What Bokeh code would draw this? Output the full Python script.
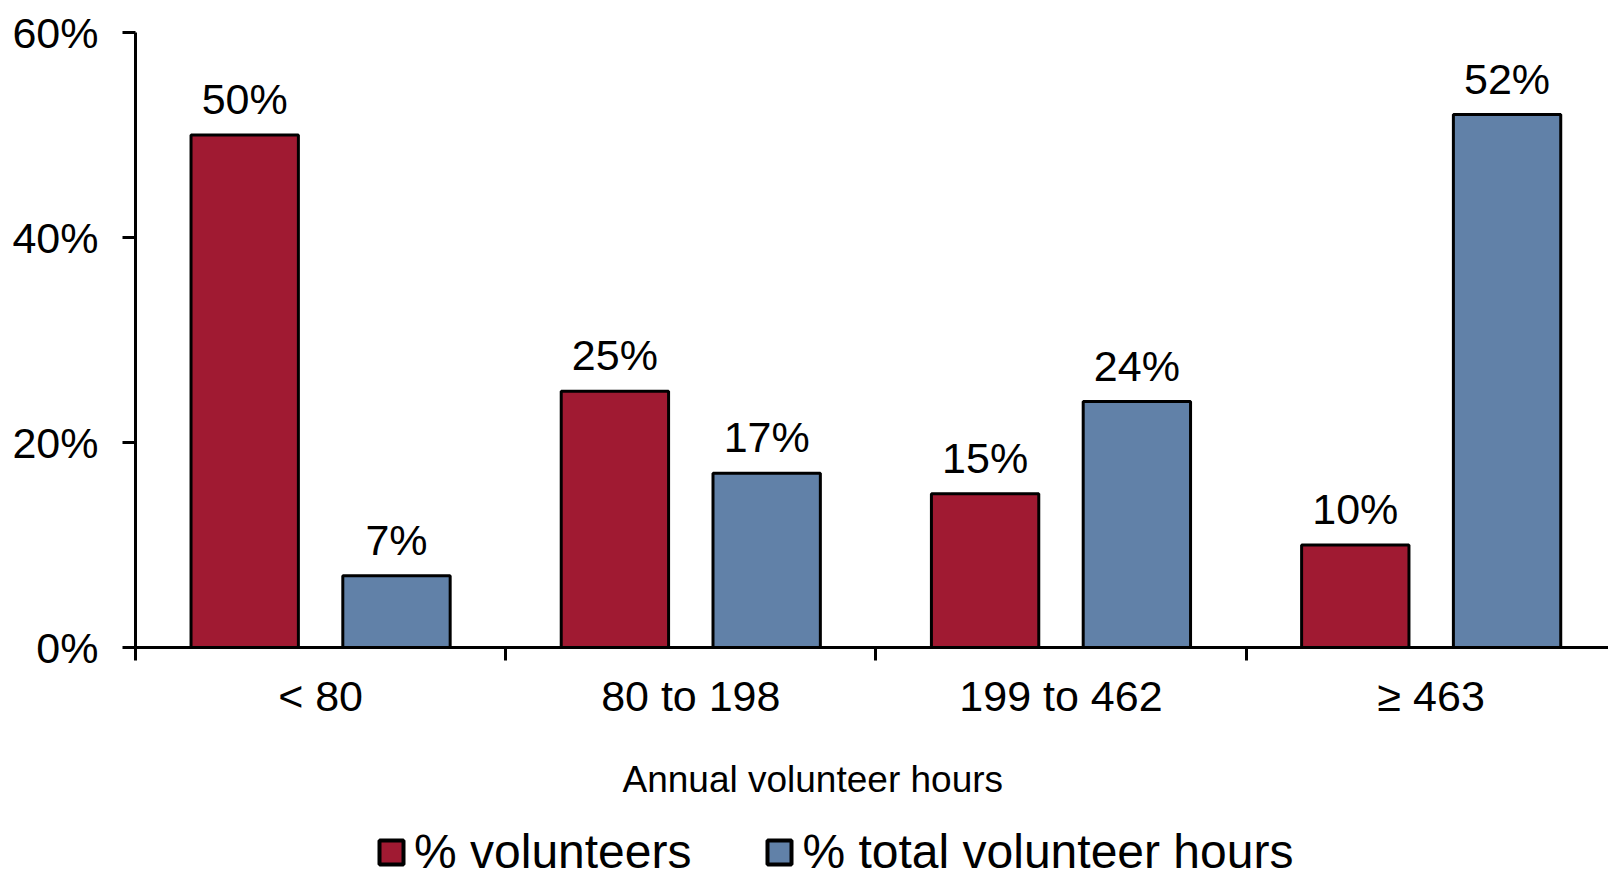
from bokeh.plotting import figure
from bokeh.layouts import column
from bokeh.models import (ColumnDataSource, FixedTicker, PrintfTickFormatter, Legend, LegendItem,
                          LabelSet, Range1d, LinearAxis, CustomJSTickFormatter, Title)
from bokeh.core.properties import value
from bokeh.embed import file_html
from bokeh.resources import INLINE

# ---- data ----
categories = ["< 80", "80 to 198", "199 to 462", "≥ 463"]
pct_volunteers = [50, 25, 15, 10]
pct_hours = [7, 17, 24, 52]
series_names = ["% volunteers", "% total volunteer hours"]
y_ticks = [0, 20, 40, 60]
x_title = "Annual volunteer hours"

RED = "#A01A32"
BLUE = "#6181A8"
FONT = "Liberation Sans"

W, H_MAIN, H_LEG = 1608, 833, 39
X_END = 3.979
p = figure(width=W, height=H_MAIN, output_backend="svg", toolbar_location=None,
           x_range=Range1d(0, X_END), y_range=Range1d(0, 60),
           x_axis_location=None, y_axis_location=None)
p.min_border_left = 135
p.min_border_top = 32
p.min_border_right = 0
p.min_border_bottom = H_MAIN - 647
p.outline_line_color = None
p.grid.visible = False

idx = list(range(len(categories)))
src_v = ColumnDataSource(dict(x=[i + 0.5 - 0.205 for i in idx], top=pct_volunteers,
                              label=[f"{v}%" for v in pct_volunteers]))
src_h = ColumnDataSource(dict(x=[i + 0.5 + 0.205 for i in idx], top=pct_hours,
                              label=[f"{v}%" for v in pct_hours]))

bar_style = dict(width=0.29, line_color="black", line_width=3)
p.vbar(x="x", top="top", source=src_v, fill_color=RED, **bar_style)
p.vbar(x="x", top="top", source=src_h, fill_color=BLUE, **bar_style)

for src in (src_v, src_h):
    p.add_layout(LabelSet(x="x", y="top", text="label", source=src, text_align="center",
                          text_baseline="alphabetic", y_offset=21, text_font=value(FONT),
                          text_font_size="43px", text_color="black"))

# y axis
yaxis = LinearAxis(ticker=FixedTicker(ticks=y_ticks), formatter=PrintfTickFormatter(format="%d%%"))
yaxis.axis_line_width = 3
yaxis.major_tick_line_width = 3
yaxis.major_tick_out = 13
yaxis.major_tick_in = 0
yaxis.minor_tick_line_color = None
yaxis.major_label_standoff = 24
yaxis.major_label_text_font = FONT
yaxis.major_label_text_font_size = "43px"
yaxis.major_label_text_color = "black"
p.add_layout(yaxis, "left")

# x axis: labels at category centers, ticks at category boundaries
xaxis = LinearAxis(ticker=FixedTicker(ticks=[i + 0.5 for i in idx], minor_ticks=list(range(len(categories) + 1))),
                   formatter=CustomJSTickFormatter(args=dict(labels=categories),
                                                   code="return labels[Math.floor(tick)] || '';"))
xaxis.axis_line_width = 3
xaxis.major_tick_line_color = None
xaxis.major_tick_out = 0
xaxis.major_tick_in = 0
xaxis.minor_tick_line_width = 3
xaxis.minor_tick_out = 13
xaxis.minor_tick_in = 0
xaxis.major_label_standoff = 11
xaxis.major_label_text_font = FONT
xaxis.major_label_text_font_size = "43px"
xaxis.major_label_text_color = "black"
p.add_layout(xaxis, "below")

title = Title(text=x_title, align="left", offset=487, text_font=FONT, text_font_size="37px",
              text_font_style="normal", text_color="black", standoff=68)
p.add_layout(title, "below")

# legend strip below the chart (hidden renderers of the same series feed the legend)
pl = figure(width=W, height=H_LEG, output_backend="svg", toolbar_location=None,
            x_range=Range1d(0, X_END), y_range=Range1d(0, 60), x_axis_location=None, y_axis_location=None)
pl.min_border = 0
pl.min_border_left = 135
pl.outline_line_color = None
pl.grid.visible = False
leg_style = dict(width=0.29, line_color="black", line_width=4)
g1 = pl.vbar(x="x", top="top", source=src_v, fill_color=RED, visible=False, **leg_style)
g2 = pl.vbar(x="x", top="top", source=src_h, fill_color=BLUE, visible=False, **leg_style)
legend = Legend(items=[LegendItem(label=series_names[0], renderers=[g1]),
                       LegendItem(label=series_names[1], renderers=[g2])],
                orientation="horizontal", location=(241, -7), spacing=73, label_standoff=8,
                glyph_width=30, glyph_height=30, padding=0, margin=0,
                border_line_color=None, background_fill_alpha=0,
                inactive_fill_alpha=0, click_policy="none",
                label_text_font=FONT, label_text_font_size="48px", label_text_color="black")
pl.add_layout(legend, "center")

layout = column(p, pl, spacing=0)
open("out.html", "w").write(file_html(layout, INLINE))
